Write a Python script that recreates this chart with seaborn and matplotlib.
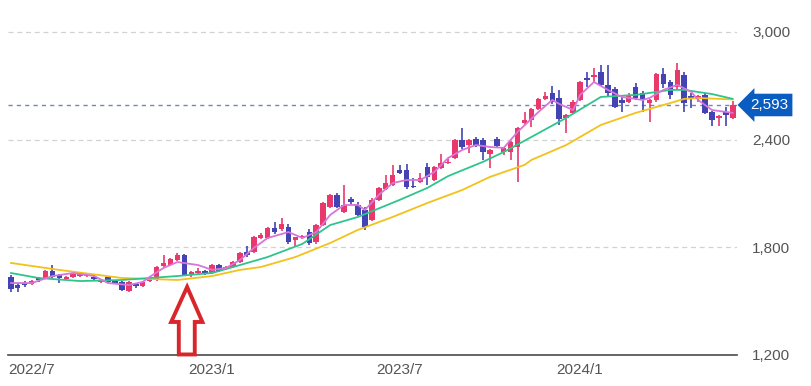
import matplotlib
matplotlib.use("Agg")
import numpy as np
import pandas as pd
import seaborn as sns
import matplotlib.pyplot as plt
import matplotlib.transforms as mtransforms
from matplotlib.patches import Polygon

# ---- weekly OHLC data ----
opens = [1635, 1590, 1601, 1596, 1629, 1629, 1668, 1646, 1624, 1635,
         1640, 1640, 1637, 1607, 1635, 1612, 1607, 1557, 1596, 1585,
         1612, 1618, 1696, 1701, 1729, 1757, 1652, 1657, 1668, 1657,
         1701, 1679, 1690, 1718, 1774, 1774, 1852, 1852, 1908, 1900,
         1913, 1840, 1852, 1885, 1830, 1924, 2025, 2092, 1997, 2070,
         2036, 2008, 1952, 2064, 2125, 2147, 2231, 2231, 2142, 2164,
         2248, 2175, 2242, 2270, 2298, 2398, 2370, 2403, 2398, 2320,
         2403, 2331, 2331, 2359, 2493, 2510, 2571, 2627, 2660, 2632,
         2521, 2549, 2621, 2744, 2750, 2777, 2705, 2683, 2621, 2610,
         2694, 2660, 2604, 2621, 2766, 2721, 2694, 2760, 2643, 2627,
         2649, 2554, 2521, 2554, 2521]
highs = [1646, 1600, 1612, 1620, 1635, 1674, 1701, 1651, 1640, 1657,
         1663, 1651, 1646, 1624, 1640, 1618, 1612, 1612, 1601, 1612,
         1629, 1696, 1757, 1740, 1768, 1763, 1668, 1685, 1674, 1707,
         1707, 1696, 1724, 1774, 1807, 1862, 1880, 1913, 1941, 1963,
         1930, 1860, 1868, 1902, 1930, 2052, 2097, 2100, 2147, 2080,
         2050, 2025, 2075, 2136, 2203, 2259, 2259, 2265, 2186, 2214,
         2270, 2253, 2320, 2300, 2403, 2465, 2403, 2415, 2410, 2350,
         2415, 2360, 2393, 2470, 2554, 2577, 2632, 2666, 2700, 2677,
         2543, 2621, 2727, 2777, 2800, 2816, 2816, 2694, 2640, 2660,
         2716, 2671, 2627, 2772, 2800, 2733, 2827, 2777, 2660, 2649,
         2660, 2560, 2538, 2580, 2615]
lows = [1551, 1551, 1579, 1590, 1607, 1624, 1629, 1601, 1618, 1629,
        1635, 1635, 1612, 1601, 1601, 1595, 1555, 1551, 1573, 1579,
        1607, 1612, 1690, 1696, 1724, 1640, 1632, 1652, 1646, 1652,
        1663, 1674, 1685, 1713, 1746, 1768, 1846, 1846, 1874, 1890,
        1820, 1802, 1846, 1813, 1818, 1918, 2020, 2020, 1990, 2040,
        1975, 1897, 1945, 2058, 2120, 2140, 2208, 2125, 2130, 2158,
        2150, 2170, 2236, 2265, 2290, 2348, 2325, 2360, 2287, 2242,
        2355, 2315, 2287, 2165, 2480, 2470, 2565, 2621, 2600, 2482,
        2437, 2543, 2615, 2694, 2720, 2700, 2638, 2577, 2554, 2604,
        2621, 2554, 2499, 2610, 2688, 2627, 2683, 2554, 2577, 2610,
        2543, 2476, 2476, 2476, 2515]
closes = [1568, 1573, 1590, 1612, 1618, 1668, 1635, 1629, 1635, 1651,
          1657, 1646, 1623, 1618, 1607, 1598, 1562, 1607, 1585, 1607,
          1624, 1690, 1713, 1735, 1757, 1646, 1663, 1668, 1652, 1701,
          1668, 1690, 1718, 1768, 1757, 1857, 1868, 1908, 1885, 1930,
          1830, 1855, 1863, 1824, 1924, 2047, 2092, 2025, 2036, 2050,
          1980, 1913, 2064, 2131, 2158, 2203, 2214, 2136, 2136, 2186,
          2192, 2248, 2270, 2276, 2398, 2359, 2398, 2370, 2331, 2342,
          2365, 2353, 2387, 2465, 2510, 2571, 2627, 2643, 2610, 2515,
          2538, 2610, 2721, 2733, 2760, 2705, 2660, 2582, 2604, 2649,
          2632, 2621, 2621, 2766, 2710, 2649, 2788, 2604, 2627, 2643,
          2549, 2510, 2532, 2538, 2593]

# moving averages (sampled at week indices)
ma_short_weeks = [0, 3, 6, 9, 12, 14, 17, 19, 20, 22, 24, 27, 29, 31, 33, 35, 37,
                  40, 42, 44, 46, 48, 50, 51, 53, 55, 57, 59, 61, 63, 65, 67, 69,
                  71, 73, 76, 78, 79, 81, 82, 84, 86, 88, 91, 92, 94, 96, 98, 99,
                  101, 104]
ma_short_vals = [1601, 1601, 1640, 1657, 1640, 1601, 1590, 1607, 1635, 1685, 1718,
                 1701, 1674, 1685, 1729, 1796, 1852, 1885, 1852, 1885, 1980, 2036,
                 2036, 2008, 2092, 2158, 2175, 2175, 2220, 2298, 2342, 2370, 2359,
                 2354, 2443, 2554, 2621, 2599, 2565, 2649, 2721, 2677, 2638, 2621,
                 2632, 2677, 2705, 2666, 2621, 2565, 2549]
ma_mid_weeks = [0, 4, 10, 16, 20, 24, 29, 33, 37, 42, 46, 50, 56, 60, 63, 68, 71,
                75, 80, 85, 90, 95, 97, 101, 104]
ma_mid_vals = [1657, 1629, 1612, 1618, 1629, 1640, 1657, 1701, 1746, 1819, 1924,
               1969, 2064, 2131, 2197, 2276, 2331, 2415, 2521, 2638, 2649, 2677,
               2677, 2654, 2627]
ma_long_weeks = [0, 7, 16, 20, 24, 29, 33, 36, 41, 46, 50, 55, 60, 65, 69, 74, 75,
                 80, 85, 90, 95, 97, 99, 104]
ma_long_vals = [1713, 1674, 1629, 1624, 1618, 1640, 1674, 1690, 1746, 1824, 1897,
                1969, 2047, 2119, 2192, 2259, 2287, 2370, 2482, 2549, 2604, 2627,
                2632, 2624]

tick_weeks = [3, 29, 56, 82]
tick_labels = ["2022/7", "2023/1", "2023/7", "2024/1"]
y_ticks = [1200, 1800, 2400, 3000]
last_price = 2593

UP = "#e8386c"
DOWN = "#4343b3"

sns.set_style("white")
plt.rcParams["font.family"] = ["Liberation Sans", "DejaVu Sans"]

fig = plt.figure(figsize=(8.11, 3.86), dpi=100)
ax = fig.add_axes([8 / 811, 31 / 386, 729 / 811, (355 - 14) / 386])

df = pd.DataFrame({"open": opens, "high": highs, "low": lows, "close": closes})
df["week"] = np.arange(len(df))
df["color"] = np.where(df["close"] >= df["open"], UP, DOWN)
body_low = np.minimum(df["open"], df["close"])
body_h = np.maximum(np.abs(df["close"] - df["open"]), 6)

ax.vlines(df["week"], df["low"], df["high"], colors=df["color"], lw=1.2, zorder=2)
ax.bar(df["week"], body_h, bottom=body_low, width=0.8, color=df["color"],
       linewidth=0, zorder=2.5)

sns.lineplot(x=ma_long_weeks, y=ma_long_vals, color="#f2c21b", lw=1.3, ax=ax, zorder=3)
sns.lineplot(x=ma_mid_weeks, y=ma_mid_vals, color="#2ec58c", lw=1.3, ax=ax, zorder=3)
sns.lineplot(x=ma_short_weeks, y=ma_short_vals, color="#d875d8", lw=1.3, ax=ax, zorder=3)

ax.set_xlim(-0.4, 104.6)
ax.set_ylim(1200, 3100)
ax.set_yticks(y_ticks)
ax.set_yticklabels([f"{v:,}" for v in y_ticks])
ax.set_xticks(tick_weeks)
ax.set_xticklabels(tick_labels)
ax.yaxis.grid(True, ls=(0, (4, 3)), color="#d2d2d2", lw=0.9)
ax.xaxis.grid(False)
ax.set_xlabel("")
ax.set_ylabel("")
for s in ["top", "left", "right"]:
    ax.spines[s].set_visible(False)
ax.spines["bottom"].set_color("#4a4a4a")
ax.spines["bottom"].set_linewidth(1.2)
ax.spines["bottom"].set_zorder(5)
ax.tick_params(axis="y", right=True, left=False, labelright=True, labelleft=False,
               length=0, pad=11, labelsize=11, labelcolor="#555555")
ax.tick_params(axis="x", length=0, pad=6, labelsize=11, labelcolor="#555555")

# last price line and tag
ax.axhline(last_price, ls=(0, (3, 3)), color="#6f87ba", lw=1, zorder=1)
trans = mtransforms.blended_transform_factory(fig.transFigure, ax.transData)
ax.text(750 / 811, last_price, f"{last_price:,}", transform=trans, ha="left",
        va="center", color="white", fontsize=11,
        bbox=dict(boxstyle="larrow,pad=0.28", fc="#0b5cc0", ec="none"))

# red hollow arrow annotation
arrow = Polygon([(25.4, 1579), (27.6, 1384), (26.5, 1384), (26.5, 1203),
                 (24.2, 1203), (24.2, 1384), (23.1, 1384)], closed=True,
                fill=False, ec="#d9262b", lw=2.8, joinstyle="miter",
                clip_on=False, zorder=6)
ax.add_patch(arrow)

fig.savefig("out.png", dpi=100)
